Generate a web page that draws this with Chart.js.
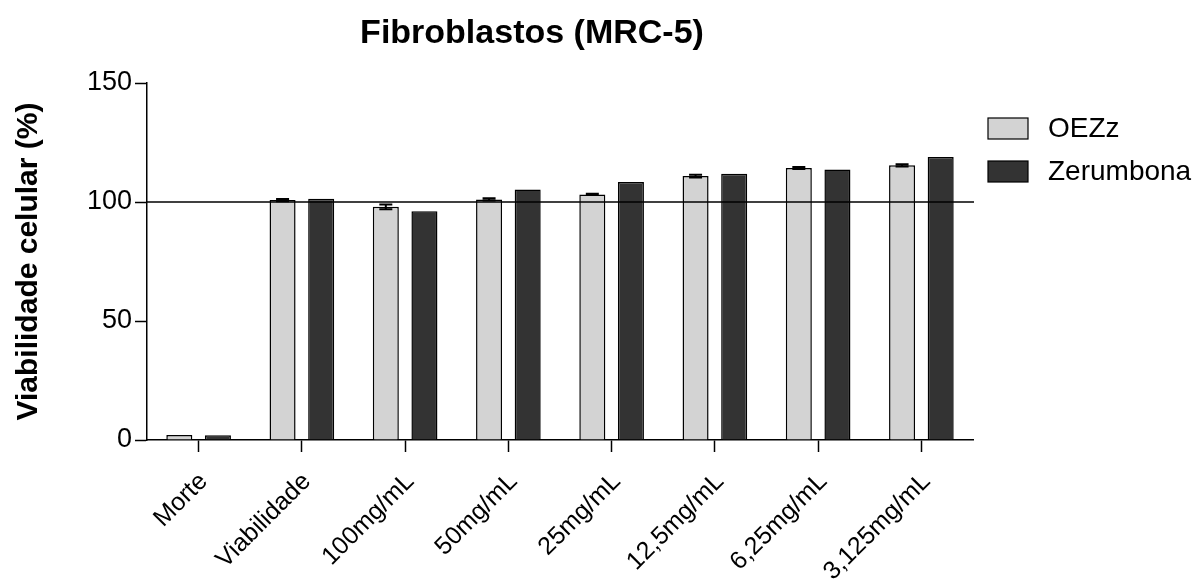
<!DOCTYPE html>
<html>
<head>
<meta charset="utf-8">
<script src="https://cdn.jsdelivr.net/npm/chart.js@4.4.0/dist/chart.umd.min.js"></script>
<style>
  html, body { margin: 0; padding: 0; background: #fff; }
  #wrap { width: 1199px; height: 580px; }
</style>
</head>
<body>
<div id="wrap"><canvas id="chart" width="1199" height="580"></canvas></div>
<script>
const categories = ['Morte', 'Viabilidade', '100mg/mL', '50mg/mL', '25mg/mL', '12,5mg/mL', '6,25mg/mL', '3,125mg/mL'];
const oezzValues = [2.1, 100.8, 98.0, 101.1, 103.2, 110.9, 114.3, 115.4];
const oezzErrors = [0, 0.5, 1.0, 0.5, 0.3, 0.6, 0.4, 0.5];
const zerumbonaValues = [2.0, 101.4, 96.1, 105.2, 108.4, 111.9, 113.7, 118.9];
const zerumbonaErrors = [0, 0, 0, 0, 0, 0, 0, 0];
const yTicks = [0, 50, 100, 150];
const referenceValue = 100;

const FONT = '"Liberation Sans", Arial, Helvetica, sans-serif';

// error bars drawn from each bar's value through the y scale
const errorBars = {
  id: 'errorBars',
  afterDatasetsDraw(chart) {
    const { ctx, scales: { y } } = chart;
    ctx.save();
    ctx.strokeStyle = '#000';
    ctx.lineWidth = 2;
    chart.data.datasets.forEach((ds, i) => {
      const meta = chart.getDatasetMeta(i);
      meta.data.forEach((bar, j) => {
        const err = ds.errors[j];
        if (!err) return;
        const v = ds.data[j];
        const top = y.getPixelForValue(v + err);
        const bot = y.getPixelForValue(v - err);
        ctx.beginPath();
        ctx.moveTo(bar.x, top); ctx.lineTo(bar.x, bot);
        ctx.moveTo(bar.x - 6.5, top); ctx.lineTo(bar.x + 6.5, top);
        ctx.moveTo(bar.x - 6.5, bot); ctx.lineTo(bar.x + 6.5, bot);
        ctx.stroke();
      });
    });
    ctx.restore();
  }
};

const refLine = {
  id: 'refLine',
  afterDatasetsDraw(chart) {
    const { ctx, chartArea, scales: { y } } = chart;
    const py = y.getPixelForValue(referenceValue);
    ctx.save();
    ctx.strokeStyle = '#000';
    ctx.lineWidth = 1.5;
    ctx.beginPath();
    ctx.moveTo(chartArea.left, py);
    ctx.lineTo(chartArea.right + 1, py);
    ctx.stroke();
    ctx.restore();
  }
};

const titleAndLegend = {
  id: 'titleAndLegend',
  afterDraw(chart) {
    const ctx = chart.ctx;
    ctx.save();
    ctx.fillStyle = '#000';
    ctx.font = 'bold 34px ' + FONT;
    ctx.textAlign = 'center';
    ctx.textBaseline = 'alphabetic';
    ctx.fillText('Fibroblastos (MRC-5)', 532, 43);

    ctx.font = '28px ' + FONT;
    ctx.textAlign = 'left';
    ctx.textBaseline = 'middle';
    chart.data.datasets.forEach((ds, i) => {
      const cy = 128.5 + i * 43;
      ctx.fillStyle = ds.backgroundColor;
      ctx.fillRect(988, cy - 10.5, 40, 21);
      ctx.strokeStyle = '#000';
      ctx.lineWidth = 1.2;
      ctx.strokeRect(988, cy - 10.5, 40, 21);
      ctx.fillStyle = '#000';
      ctx.fillText(ds.label, 1048, cy + 1);
    });
    ctx.restore();
  }
};

new Chart(document.getElementById('chart'), {
  type: 'bar',
  data: {
    labels: categories,
    datasets: [
      {
        label: 'OEZz',
        data: oezzValues,
        errors: oezzErrors,
        backgroundColor: '#d3d3d3',
        borderColor: '#000',
        borderWidth: 1.5
      },
      {
        label: 'Zerumbona',
        data: zerumbonaValues,
        errors: zerumbonaErrors,
        backgroundColor: '#333333',
        borderColor: '#000',
        borderWidth: 1.5
      }
    ]
  },
  options: {
    responsive: false,
    animation: false,
    barPercentage: 0.674,
    categoryPercentage: 0.748,
    layout: { padding: { top: 83, right: 226, left: 0, bottom: 0 } },
    plugins: {
      legend: { display: false },
      tooltip: { enabled: false },
      title: { display: false }
    },
    scales: {
      x: {
        grid: { offset: false, drawOnChartArea: false, drawTicks: true, tickLength: 12, tickColor: '#000', tickWidth: 1.5 },
        border: { color: '#000', width: 1.5 },
        ticks: {
          color: '#000',
          font: { family: FONT, size: 25 },
          minRotation: 45,
          maxRotation: 45,
          padding: 15,
          labelOffset: 5,
          autoSkip: false
        },
        afterFit: s => { s.height = 140; }
      },
      y: {
        min: 0,
        max: 150,
        afterBuildTicks: s => { s.ticks = yTicks.map(v => ({ value: v })); },
        grid: { drawOnChartArea: false, drawTicks: true, tickLength: 12, tickColor: '#000', tickWidth: 1.5 },
        border: { color: '#000', width: 1.5 },
        ticks: { color: '#000', font: { family: FONT, size: 27 }, padding: 3 },
        title: {
          display: true,
          text: 'Viabilidade celular (%)',
          color: '#000',
          font: { family: FONT, size: 30, weight: 'bold' },
          padding: { top: 11, bottom: 0 }
        },
        afterFit: s => { s.width = 147; }
      }
    }
  },
  plugins: [errorBars, refLine, titleAndLegend]
});
</script>
</body>
</html>
